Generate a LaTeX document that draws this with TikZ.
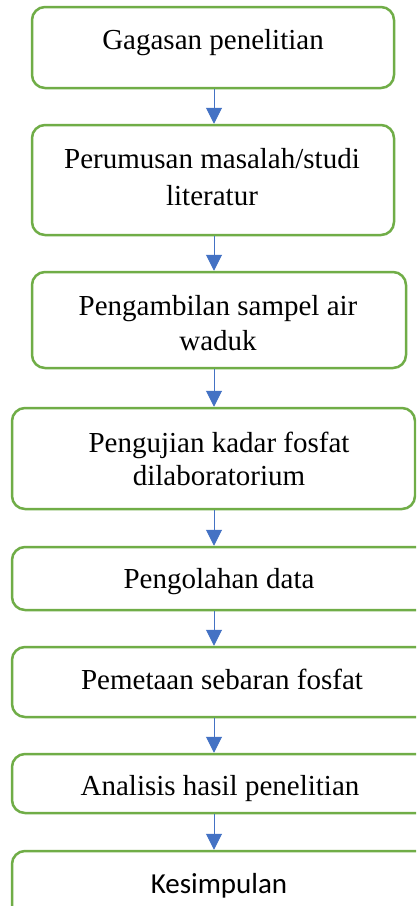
\documentclass[tikz,border=0pt]{standalone}
\usepackage{fontspec}
\setmainfont{Liberation Serif}
\newfontfamily\calibrifont{Carlito}
\usetikzlibrary{arrows.meta}
\definecolor{boxgreen}{HTML}{70AD47}
\definecolor{arrblue}{HTML}{4472C4}
\begin{document}
\begin{tikzpicture}[x=1pt,y=-1pt,
  box/.style={draw=boxgreen, line width=2.5pt, rounded corners=13pt, fill=white, inner sep=0pt},
  txt/.style={anchor=base, align=center, inner sep=0pt, font=\fontsize{29}{35}\selectfont},
  arr/.style={draw=arrblue, line width=1pt, -{Triangle[length=16pt,width=16pt]}}]
\clip (0,0) rectangle (416,906);
\fill[white] (0,0) rectangle (416,906);
\coordinate (ax) at (214,0);
\node[box, minimum width=362pt, minimum height=81pt] (b1) at (213,47.5) {};
\node[box, minimum width=362pt, minimum height=110pt] (b2) at (213,180) {};
\node[box, minimum width=374pt, minimum height=96pt] (b3) at (219,320) {};
\node[box, minimum width=403pt, minimum height=101pt] (b4) at (213.5,458.5) {};
\node[box, minimum width=428pt, minimum height=63pt] (b5) at (226,578.5) {};
\node[box, minimum width=428pt, minimum height=70pt] (b6) at (226,682) {};
\node[box, minimum width=428pt, minimum height=59pt] (b7) at (226,783.5) {};
\node[box, minimum width=428pt, minimum height=89pt] (b8) at (226,895.5) {};
\node[txt] (t1) at (213,49) {Gagasan penelitian};
\node[txt, font=\fontsize{29}{37}\selectfont] (t2) at (212,205) {Perumusan masalah/studi\\literatur};
\node[txt, font=\fontsize{29}{35}\selectfont] (t3) at (218,350) {Pengambilan sampel air\\waduk};
\node[txt, font=\fontsize{29}{33}\selectfont] (t4) at (219,485) {Pengujian kadar fosfat\\dilaboratorium};
\node[txt] (t5) at (219,588) {Pengolahan data};
\node[txt] (t6) at (222,689) {Pemetaan sebaran fosfat};
\node[txt] (t7) at (220,795) {Analisis hasil penelitian};
\node[txt, font=\calibrifont\fontsize{29}{35}\selectfont] (t8) at (219,893) {Kesimpulan};
\draw[arr] (b1.south -| ax) -- (b2.north -| ax);
\draw[arr] (b2.south -| ax) -- (b3.north -| ax);
\draw[arr] (b3.south -| ax) -- (b4.north -| ax);
\draw[arr] (b4.south -| ax) -- (b5.north -| ax);
\draw[arr] (b5.south -| ax) -- (b6.north -| ax);
\draw[arr] (b6.south -| ax) -- (b7.north -| ax);
\draw[arr] (b7.south -| ax) -- (b8.north -| ax);
\end{tikzpicture}
\end{document}
